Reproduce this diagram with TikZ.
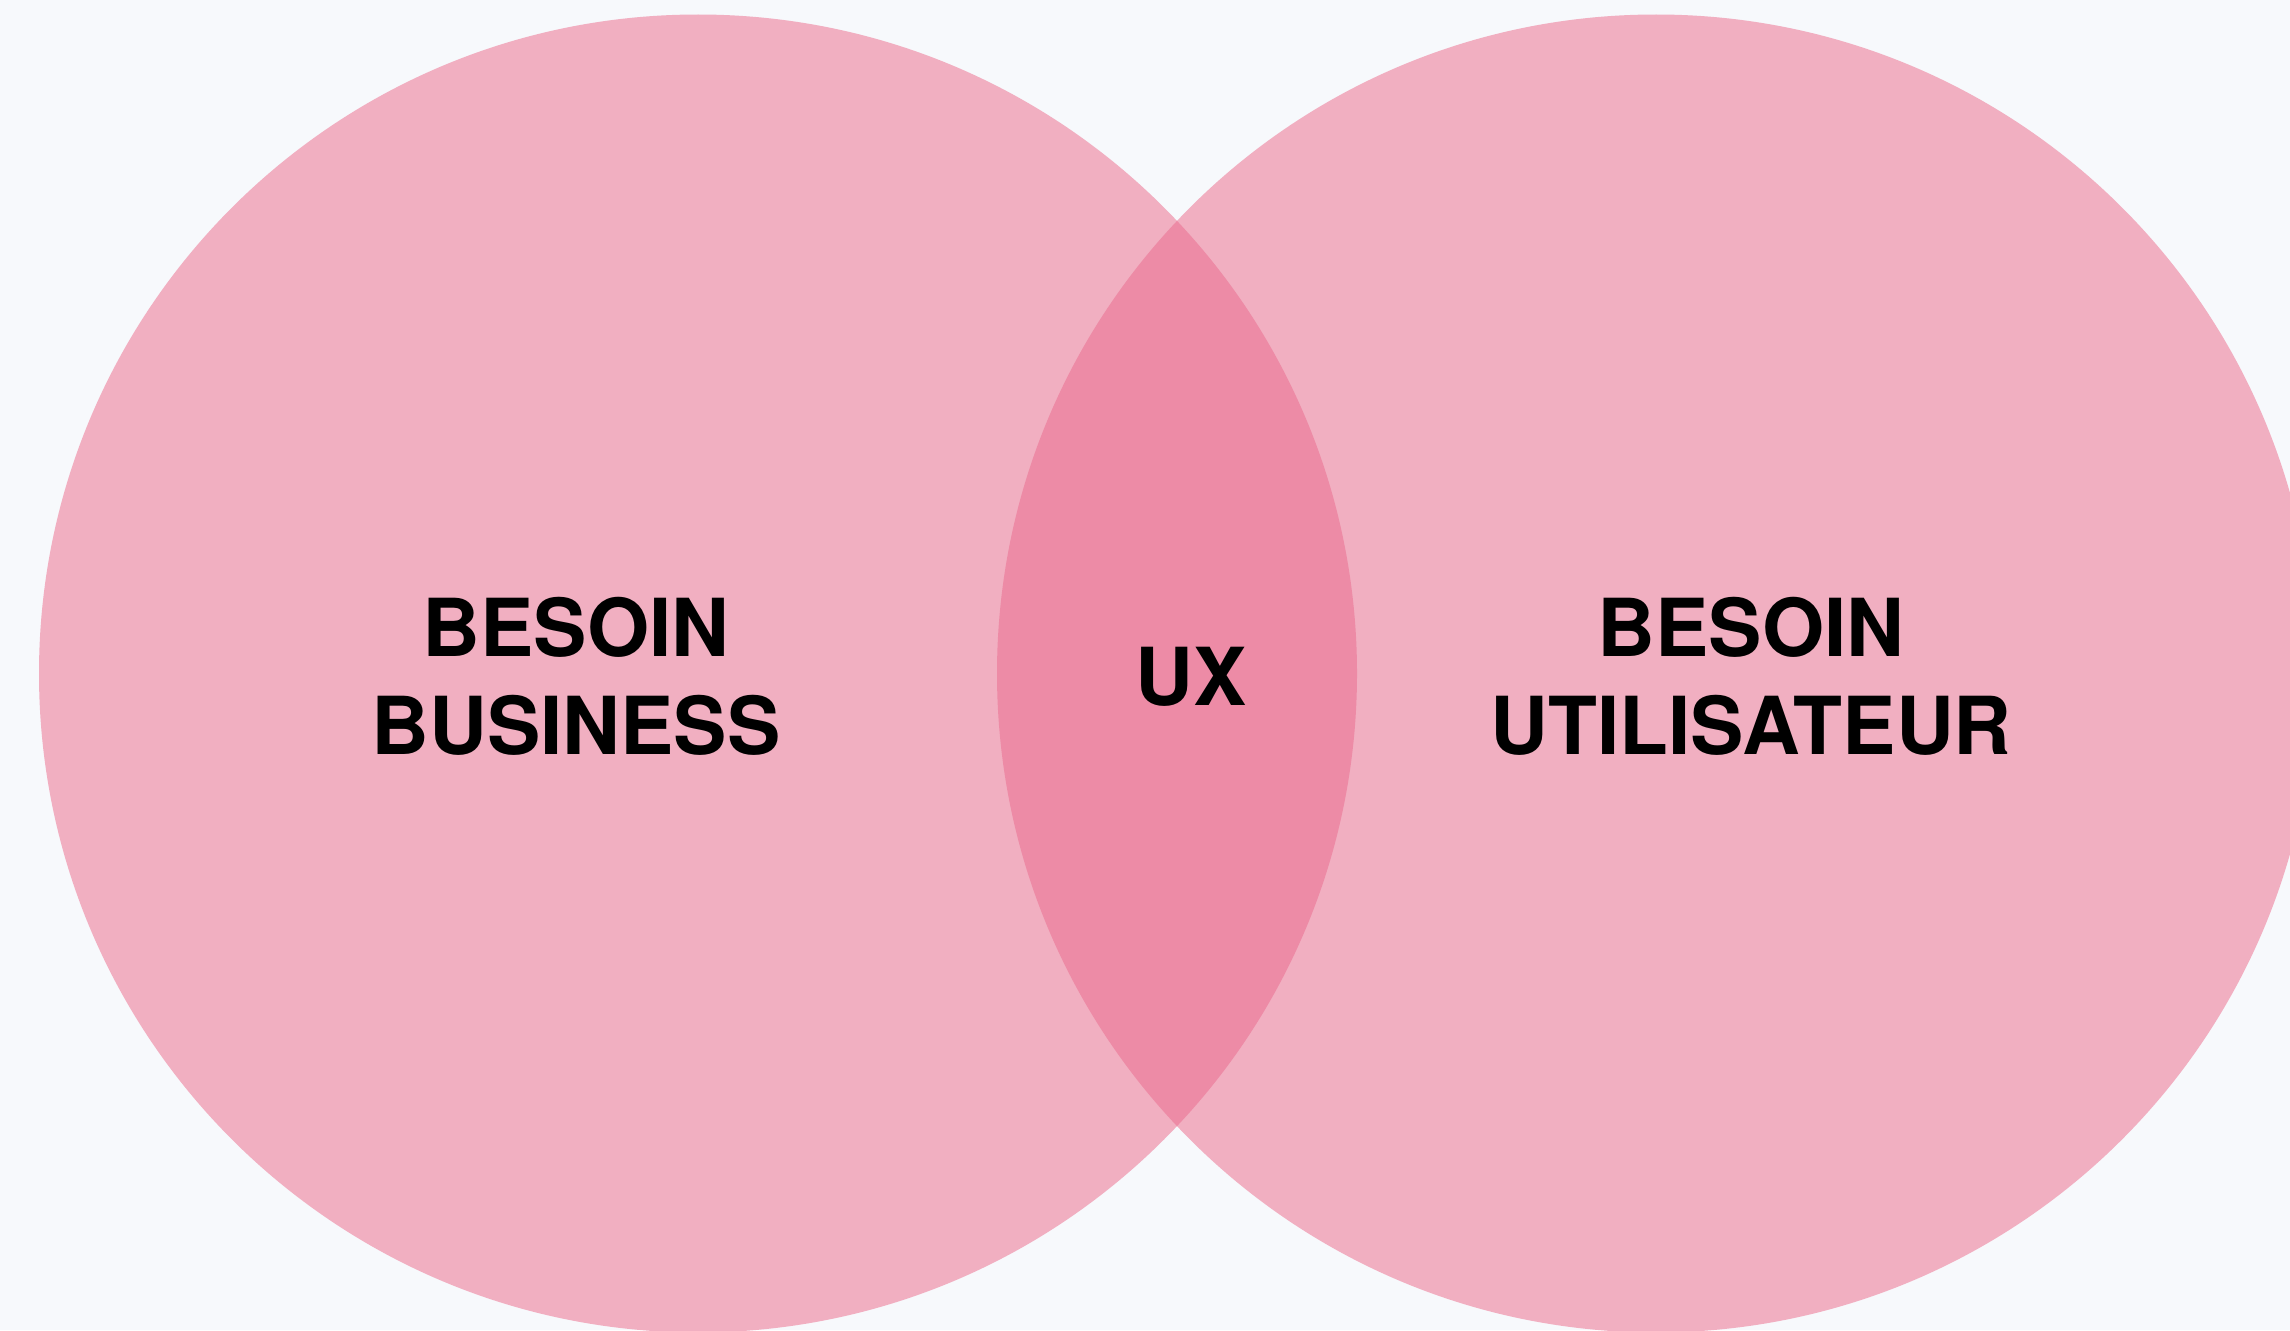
\documentclass[tikz,border=0pt]{standalone}
\usepackage{fontspec}
\setmainfont{TeX Gyre Heros}
\definecolor{bgcol}{HTML}{F7F9FC}
\definecolor{setcol}{HTML}{F1AFC1}
\definecolor{lenscol}{HTML}{ED8BA6}
\begin{document}
\begin{tikzpicture}[x=1pt,y=-1pt,
  vennlabel/.style={font=\fontsize{80}{98}\selectfont\bfseries, align=center, inner sep=0pt, text=black}]
\useasboundingbox (0,0) rectangle (2290,1330);
\clip (0,0) rectangle (2290,1330);
\fill[bgcol] (0,0) rectangle (2290,1330);
% two sets
\fill[setcol] (698,673.5) circle[radius=659];
\fill[setcol] (1656,673.5) circle[radius=659];
% their intersection
\begin{scope}
  \clip (698,673.5) circle[radius=659];
  \fill[lenscol] (1656,673.5) circle[radius=659];
\end{scope}
\node[vennlabel] (business) at (576,676.5) {BESOIN\\BUSINESS};
\node[vennlabel] (ux) at (1191,676.5) {UX};
\node[vennlabel] (user) at (1751,676.5) {BESOIN\\UTILISATEUR};
\end{tikzpicture}
\end{document}
